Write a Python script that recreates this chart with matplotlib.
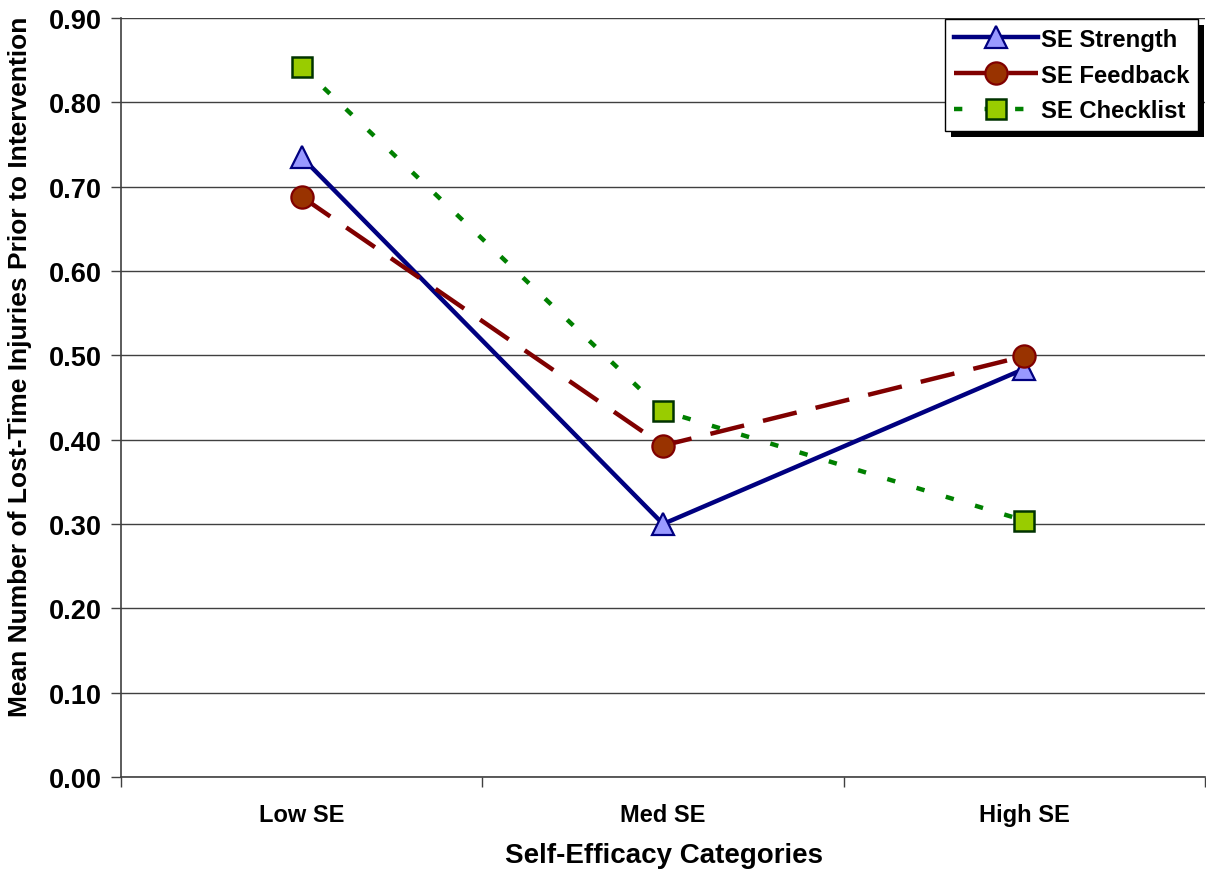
import matplotlib
matplotlib.use('Agg')
import matplotlib.pyplot as plt
from matplotlib.patches import Rectangle
import numpy as np

plt.rcParams['font.family'] = ['Liberation Sans', 'DejaVu Sans']
plt.rcParams['font.weight'] = 'bold'
plt.rcParams['lines.scale_dashes'] = False

categories = ['Low SE', 'Med SE', 'High SE']
se_strength = [0.735, 0.300, 0.484]
se_feedback = [0.688, 0.393, 0.499]
se_checklist = [0.842, 0.434, 0.304]
yticks = [0.0, 0.1, 0.2, 0.3, 0.4, 0.5, 0.6, 0.7, 0.8, 0.9]

fig = plt.figure(figsize=(12.06, 8.78), dpi=100)
ax = fig.add_axes([0.1003, 0.1139, 0.8990, 0.8645])

x = np.arange(len(categories))

ax.plot(x, se_strength, color='#000080', lw=3.2, marker='^', ms=16,
        mfc='#9999FF', mec='#000080', mew=1.6, label='SE Strength', zorder=4)
ax.plot(x, se_feedback, color='#800000', lw=3.2, ls=(0, (25, 14)), marker='o', ms=16,
        mfc='#993300', mec='#800000', mew=1.6, label='SE Feedback', zorder=4,
        dash_capstyle='butt')
ax.plot(x, se_checklist, color='#008000', lw=3.2, ls=(0, (6, 16)), marker='s', ms=15,
        mfc='#99CC00', mec='#003300', mew=1.8, label='SE Checklist', zorder=4,
        dash_capstyle='butt')

ax.set_xlim(-0.5, 2.5)
ax.set_ylim(0, 0.9)
ax.set_yticks(yticks)
ax.set_yticklabels(['%.2f' % v for v in yticks], fontsize=19.5, fontweight='bold')
ax.set_xticks(x)
ax.set_xticklabels(categories, fontsize=17, fontweight='bold')
ax.set_xticks([-0.5, 0.5, 1.5, 2.5], minor=True)
ax.tick_params(axis='x', which='major', length=0, pad=19)
ax.tick_params(axis='x', which='minor', length=7, width=1, color='#404040')
ax.tick_params(axis='y', length=7, width=1, color='#404040', pad=7)

ax.grid(axis='y', color='#404040', lw=1)
ax.set_axisbelow(True)
for s in ['top', 'right']:
    ax.spines[s].set_visible(False)
for s in ['left', 'bottom']:
    ax.spines[s].set_color('#404040')
    ax.spines[s].set_linewidth(1.2)

ax.set_xlabel('Self-Efficacy Categories', fontsize=20, fontweight='bold')
ax.set_ylabel('Mean Number of Lost-Time Injuries Prior to Intervention',
              fontsize=19, fontweight='bold')
ax.xaxis.set_label_coords(0.501, -0.0856)
ax.yaxis.set_label_coords(-0.082, 0.5415)

leg = ax.legend(loc='upper right', bbox_to_anchor=(0.9935, 0.998), fontsize=17.2,
                frameon=True, fancybox=False, framealpha=1, handlelength=3.55,
                borderpad=0.35, labelspacing=0.53, handletextpad=0.12,
                borderaxespad=0.0)
leg.get_frame().set_edgecolor('black')
leg.get_frame().set_linewidth(1)
leg.set_zorder(10)

# solid drop shadow behind the legend box
fig.canvas.draw()
bb = leg.get_window_extent().transformed(ax.transAxes.inverted())
dx, dy = 6 / (0.8990 * 1206), 6 / (0.8645 * 878)
ax.add_patch(Rectangle((bb.x0 + dx, bb.y0 - dy), bb.width, bb.height,
                       transform=ax.transAxes, facecolor='black',
                       edgecolor='none', zorder=9, clip_on=False))

fig.savefig('out.png', dpi=100)
